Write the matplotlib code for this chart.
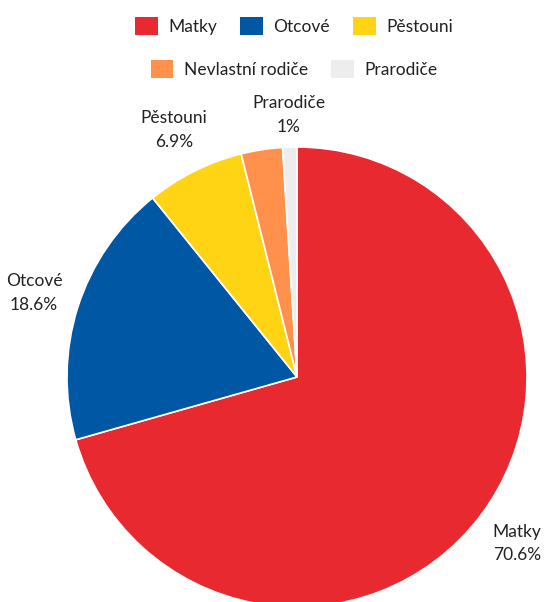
import numpy as np
import matplotlib
matplotlib.use("Agg")
import matplotlib.pyplot as plt
from matplotlib.patches import Patch

plt.rcParams['font.family'] = ['Lato', 'DejaVu Sans']

categories = ["Matky", "Otcové", "Pěstouni", "Nevlastní rodiče", "Prarodiče"]
values = [70.6, 18.6, 6.9, 2.9, 1.0]
value_labels = ["70.6%", "18.6%", "6.9%", "", "1%"]
colors = ["#E8292F", "#0057A4", "#FFD414", "#FF914D", "#EDEDED"]

# radial placement of each label (in units of the pie radius)
label_dist = [1.2, 1.2, 1.2, 1.2, 1.14]

W, H = 547, 602
fig = plt.figure(figsize=(W / 100, H / 100), dpi=100)

cx, cy, r = 297, 377, 230
ax = fig.add_axes([(cx - r) / W, (H - cy - r) / H, 2 * r / W, 2 * r / H])
wedges, _ = ax.pie(values, colors=colors, startangle=90, counterclock=False,
                   radius=1.0, wedgeprops=dict(edgecolor="white", linewidth=1.2))
ax.set_xlim(-1, 1)
ax.set_ylim(-1, 1)
ax.set_aspect("equal")
ax.axis("off")

# category labels centred outside each wedge
for w, name, vl, d in zip(wedges, categories, value_labels, label_dist):
    if not vl:
        continue
    ang = np.deg2rad((w.theta1 + w.theta2) / 2)
    ax.text(d * np.cos(ang), d * np.sin(ang), f"{name}\n{vl}", ha="center",
            va="center", fontsize=12.5, color="#222222", linespacing=1.6,
            clip_on=False)

fs = 12.5
h1 = [Patch(facecolor=c, edgecolor="none") for c in colors[:3]]
h2 = [Patch(facecolor=c, edgecolor="none") for c in colors[3:]]
common = dict(frameon=False, fontsize=fs, handlelength=1.3, handleheight=1.3,
              handletextpad=0.6, columnspacing=1.35, borderpad=0, labelcolor="#222222")
fig.legend(h1, categories[:3], ncol=3, loc="center", bbox_to_anchor=(294 / W, 1 - 26 / H), **common)
fig.legend(h2, categories[3:], ncol=2, loc="center", bbox_to_anchor=(294 / W, 1 - 69 / H), **common)

fig.savefig("out.png", dpi=100)
